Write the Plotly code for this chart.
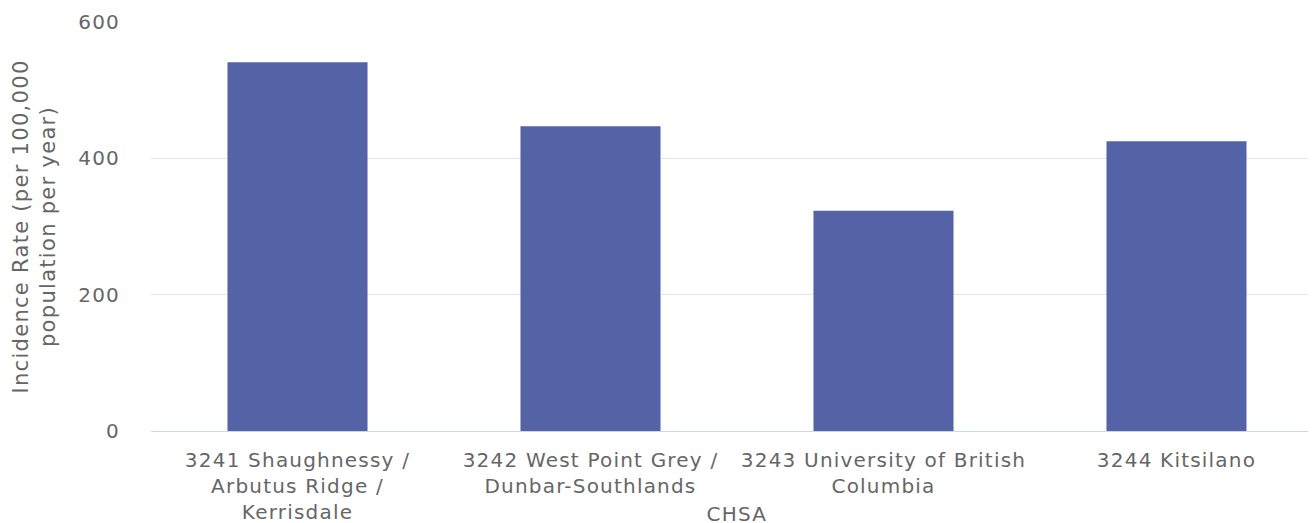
import plotly.graph_objects as go

categories = [
    "3241 Shaughnessy /<br>Arbutus Ridge /<br>Kerrisdale",
    "3242 West Point Grey /<br>Dunbar-Southlands",
    "3243 University of British<br>Columbia",
    "3244 Kitsilano",
]
values = [541, 447, 323, 425]
y_ticks = [0, 200, 400, 600]

FONT = "DejaVu Sans"
GREY = "#666666"
FS = 20

fig = go.Figure(
    go.Bar(
        x=categories,
        y=values,
        marker=dict(color="#5463a6", line=dict(width=0)),
        width=0.478,
    )
)

fig.update_layout(
    width=1315,
    height=515,
    margin=dict(l=143, r=0, t=14, b=92),
    paper_bgcolor="white",
    plot_bgcolor="white",
    showlegend=False,
    font=dict(family=FONT, color=GREY, size=FS),
    xaxis=dict(
        showgrid=False,
        showline=True,
        linecolor="#ccd6eb",
        linewidth=1,
        ticks="",
        automargin=False,
        ticklabelstandoff=11,
        tickfont=dict(family=FONT, color=GREY, size=FS),
        range=[-0.5, 3.5],
    ),
    yaxis=dict(
        range=[0, 600],
        tickvals=y_ticks,
        showgrid=True,
        gridcolor="#e6e6e6",
        gridwidth=1,
        zeroline=False,
        showline=False,
        ticks="",
        automargin=False,
        ticklabelstandoff=30,
        tickfont=dict(family=FONT, color=GREY, size=FS),
        title=dict(
            text="Incidence Rate (per 100,000<br>population per year)",
            font=dict(family=FONT, color=GREY, size=21),
            standoff=20,
        ),
    ),
    annotations=[
        dict(
            text="CHSA",
            xref="paper",
            yref="paper",
            x=0.5,
            y=0,
            yshift=-83,
            xanchor="center",
            yanchor="middle",
            showarrow=False,
            font=dict(family=FONT, color=GREY, size=FS),
        )
    ],
)

spacing_js = """
document.querySelectorAll('.xtick text, .ytick text, .annotation-text').forEach(function(el){
  el.style.letterSpacing = '1.2px';
});
document.querySelectorAll('.g-ytitle text').forEach(function(el){
  el.style.letterSpacing = '1.3px';
});
"""

fig.write_html("out.html", post_script=spacing_js)
